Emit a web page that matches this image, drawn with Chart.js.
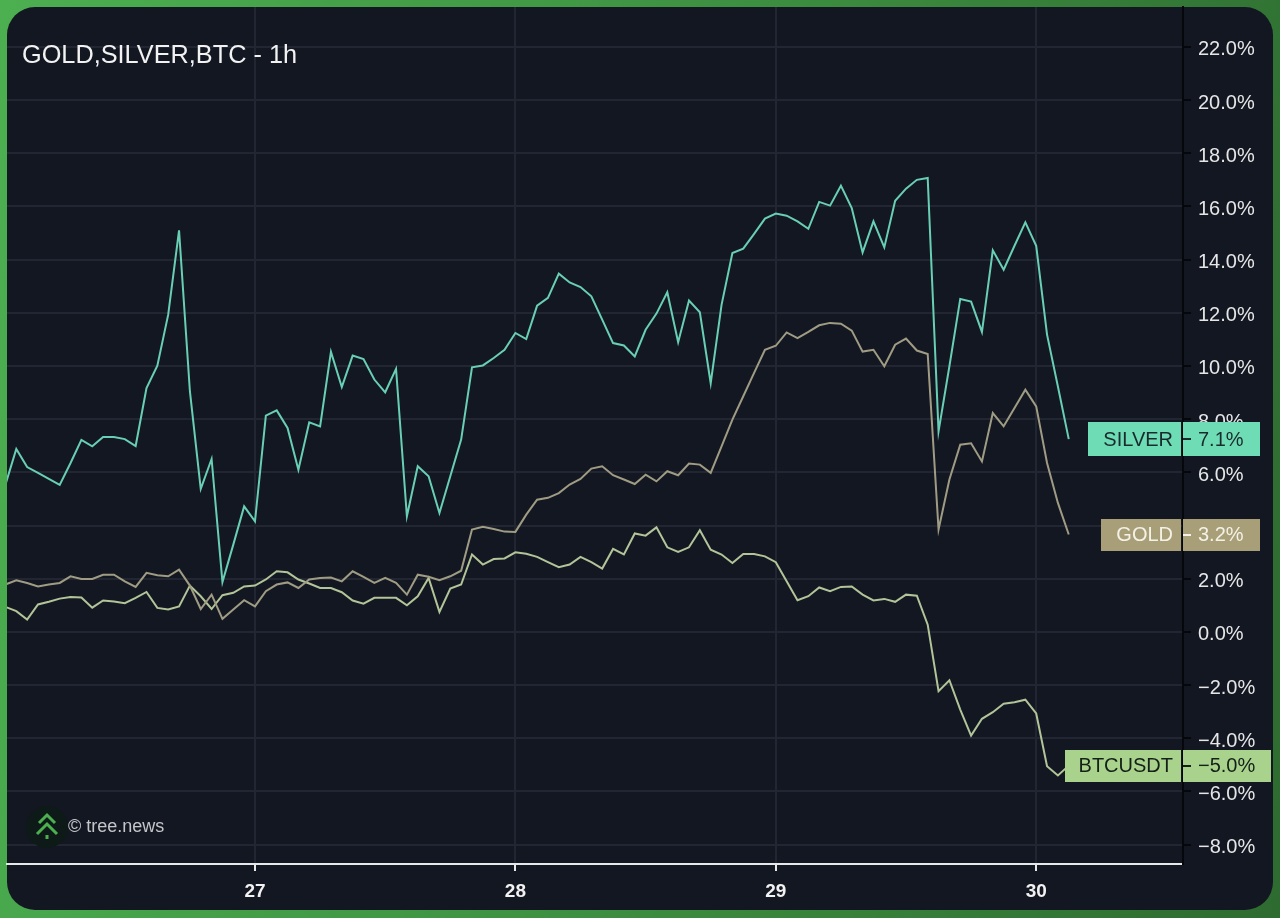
<!DOCTYPE html>
<html>
<head>
<meta charset="utf-8">
<script src="https://cdn.jsdelivr.net/npm/chart.js@4"></script>
<style>
html,body{margin:0;padding:0;width:1280px;height:918px;overflow:hidden;background:linear-gradient(100deg,#4caf50 0%,#3f9443 45%,#2e6b30 100%);}
#card{position:absolute;left:7px;top:7px;width:1266px;height:903px;background:#131722;border-radius:28px;}
#wrap{position:absolute;left:0;top:0;width:1280px;height:918px;}
#title{position:absolute;left:22px;top:40px;font:25.3px "Liberation Sans",Arial,sans-serif;color:#f2f2f2;line-height:28px;white-space:nowrap;}
</style>
</head>
<body>
<div id="card"></div>
<div id="wrap"><canvas id="c" width="1280" height="918"></canvas></div>
<div id="title">GOLD,SILVER,BTC - 1h</div>
<script>
const watermark = "© tree.news";

const hours = [1,2,3,4,5,6,7,8,9,10,11,12,13,14,15,16,17,18,19,20,21,22,23,24,25,26,27,28,29,30,31,32,33,34,35,36,37,38,39,40,41,42,43,44,45,46,47,48,49,50,51,52,53,54,55,56,57,58,59,60,61,62,63,64,65,66,67,68,69,70,71,72,73,74,75,76,77,78,79,80,81,82,83,84,85,86,87,88,89,90,91,92,93,94,95,96,97,98,99];

const silver = [5.54,6.88,6.20,5.98,5.75,5.53,6.35,7.22,6.98,7.33,
7.33,7.25,6.99,9.17,10.01,11.93,15.10,9.05,5.38,6.50,
1.87,3.28,4.72,4.16,8.13,8.33,7.67,6.10,7.88,7.73,
10.53,9.21,10.39,10.26,9.49,9.01,9.89,4.35,6.23,5.85,
4.47,5.85,7.23,9.95,10.02,10.30,10.61,11.24,11.01,12.27,
12.56,13.47,13.14,12.97,12.62,11.74,10.86,10.77,10.36,11.36,
11.97,12.77,10.89,12.46,12.02,9.35,12.30,14.25,14.41,14.97,
15.54,15.73,15.65,15.44,15.16,16.17,16.03,16.78,15.94,14.27,
15.44,14.46,16.21,16.67,17.00,17.07,7.54,9.99,12.52,12.42,
11.28,14.35,13.62,14.52,15.40,14.52,11.18,9.23,7.25];

const gold = [1.78,1.94,1.84,1.71,1.78,1.84,2.09,1.99,1.99,2.15,2.15,1.90,1.69,2.22,2.13,2.09,2.34,1.74,
0.86,1.40,0.49,0.84,1.19,0.96,1.53,1.78,1.86,1.65,
1.97,2.03,2.04,1.90,2.28,2.07,1.84,2.03,1.84,1.40,2.15,2.07,1.94,2.09,2.30,
3.85,3.95,3.87,3.77,3.76,4.41,4.97,5.04,5.22,5.54,5.75,
6.14,6.23,5.89,5.73,5.56,5.91,5.66,6.04,5.89,6.33,6.29,5.98,6.98,7.98,8.86,9.74,10.61,10.76,11.26,11.05,11.28,
11.53,11.62,11.59,11.33,10.54,10.61,9.99,10.80,11.03,10.58,10.45,3.85,5.73,7.04,7.09,6.41,8.23,7.73,8.42,9.11,8.48,6.35,4.85,3.66];

const btc = [0.94,0.78,0.46,1.03,1.13,1.25,1.31,1.29,0.91,1.18,1.14,1.08,1.28,1.50,0.90,0.84,0.96,1.74,
1.34,0.86,1.38,1.47,1.71,1.74,1.97,2.28,2.24,1.97,
1.82,1.65,1.65,1.49,1.18,1.06,1.28,1.28,1.28,1.00,1.34,2.03,0.75,1.63,1.78,
2.91,2.53,2.74,2.76,2.99,2.94,2.82,2.62,2.43,2.53,2.82,
2.62,2.38,3.12,2.91,3.70,3.62,3.93,3.18,3.01,3.18,3.82,3.09,2.91,2.59,2.93,2.93,2.84,2.62,1.90,1.19,1.34,
1.67,1.53,1.69,1.71,1.40,1.18,1.24,1.13,1.40,1.36,0.27,-2.23,-1.82,-2.92,-3.90,-3.27,-3.02,-2.70,-2.65,-2.55,-3.07,-5.05,-5.40,-5.03];

const xTickValues = [24,48,72,96];
const xTickLabels = ["27","28","29","30"];
const yTickValues = [-8,-6,-4,-2,0,2,4,6,8,10,12,14,16,18,20,22];

const tagNames = ["SILVER","GOLD","BTCUSDT"];
const tagValues = ["7.1%","3.2%","\u22125.0%"];

const pts = arr => arr.map((v,i)=>({x:hours[i],y:v}));
const FONT = '"Liberation Sans",Arial,sans-serif';

const tagStyle = [
  {ds:0,bg:"#6eddb6",fg:"#1b2a2c",lx:1088,rx:1260,h:34},
  {ds:1,bg:"#a89e78",fg:"#f4f1e6",lx:1101,rx:1260,h:32},
  {ds:2,bg:"#a9d38d",fg:"#142018",lx:1065,rx:1271,h:32}
];

const overlay = {
  id:"overlay",
  afterDraw(chart){
    const {ctx} = chart;
    const axisX = chart.chartArea.right;
    ctx.save();
    ctx.beginPath();ctx.arc(47,827,21,0,Math.PI*2);ctx.fillStyle="#0e1a17";ctx.fill();
    ctx.strokeStyle="#4caf50";ctx.lineWidth=3;ctx.lineCap="butt";
    [[815,8],[824,10]].forEach(([y,w])=>{
      ctx.beginPath();ctx.moveTo(47-w,y+w);ctx.lineTo(47,y);ctx.lineTo(47+w,y+w);ctx.stroke();
    });
    ctx.fillStyle="#4caf50";ctx.fillRect(45.5,835,3,4);
    ctx.font="18px "+FONT;ctx.fillStyle="#c4c6c8";ctx.textBaseline="middle";ctx.textAlign="left";
    ctx.fillText(watermark,68,827.5);
    tagStyle.forEach((t,i)=>{
      const meta = chart.getDatasetMeta(t.ds);
      const py = meta.data[meta.data.length-1].y;
      const top = Math.round(py - t.h/2);
      ctx.fillStyle=t.bg;
      ctx.fillRect(t.lx,top,axisX-2-t.lx,t.h);
      ctx.fillRect(axisX,top,t.rx-axisX,t.h);
      ctx.fillStyle=t.fg;
      ctx.fillRect(axisX,Math.round(py)-1,8,2);
      ctx.font="20px "+FONT;ctx.textBaseline="middle";
      ctx.textAlign="right";ctx.fillText(tagNames[i],axisX-10,py+1);
      ctx.textAlign="left";ctx.fillText(tagValues[i],axisX+15,py+1);
    });
    ctx.restore();
  }
};

new Chart(document.getElementById("c"),{
  type:"line",
  data:{datasets:[
    {label:"SILVER",data:pts(silver),borderColor:"#69cfb4",borderWidth:2,pointRadius:0,tension:0},
    {label:"GOLD",data:pts(gold),borderColor:"#a09c84",borderWidth:2,pointRadius:0,tension:0},
    {label:"BTCUSDT",data:pts(btc),borderColor:"#b3c498",borderWidth:2,pointRadius:0,tension:0}
  ]},
  options:{
    responsive:false,animation:false,devicePixelRatio:1,
    layout:{padding:{left:7,top:7,right:0,bottom:0}},
    plugins:{legend:{display:false},tooltip:{enabled:false},title:{display:false}},
    scales:{
      x:{
        type:"linear",min:1.143,max:109.53,
        afterBuildTicks:s=>{s.ticks=xTickValues.map(v=>({value:v}));},
        afterFit:s=>{s.height=54;s.paddingLeft=0;s.paddingRight=0;},
        border:{color:"#e8e8e8",width:2},
        grid:{color:"#222632",lineWidth:2,tickColor:"#e8e8e8",tickLength:7,tickWidth:2},
        ticks:{autoSkip:false,maxRotation:0,padding:9,color:"#f2f2f2",font:{family:FONT,size:19,weight:"bold"},
          callback:v=>xTickLabels[xTickValues.indexOf(v)]}
      },
      y:{
        type:"linear",position:"right",min:-8.73,max:23.5,
        afterBuildTicks:s=>{s.ticks=yTickValues.map(v=>({value:v}));},
        afterFit:s=>{s.width=97;s.paddingTop=0;s.paddingBottom=0;},
        border:{color:"#05070a",width:2},
        grid:{color:"#222632",lineWidth:2,tickColor:"#05070a",tickLength:8,tickWidth:2},
        ticks:{autoSkip:false,padding:7,labelOffset:3,color:"#e6e6e6",font:{family:FONT,size:20},
          callback:v=>(v<0?"\u2212":"")+Math.abs(v).toFixed(1)+"%"}
      }
    }
  },
  plugins:[overlay]
});
</script>
</body>
</html>
